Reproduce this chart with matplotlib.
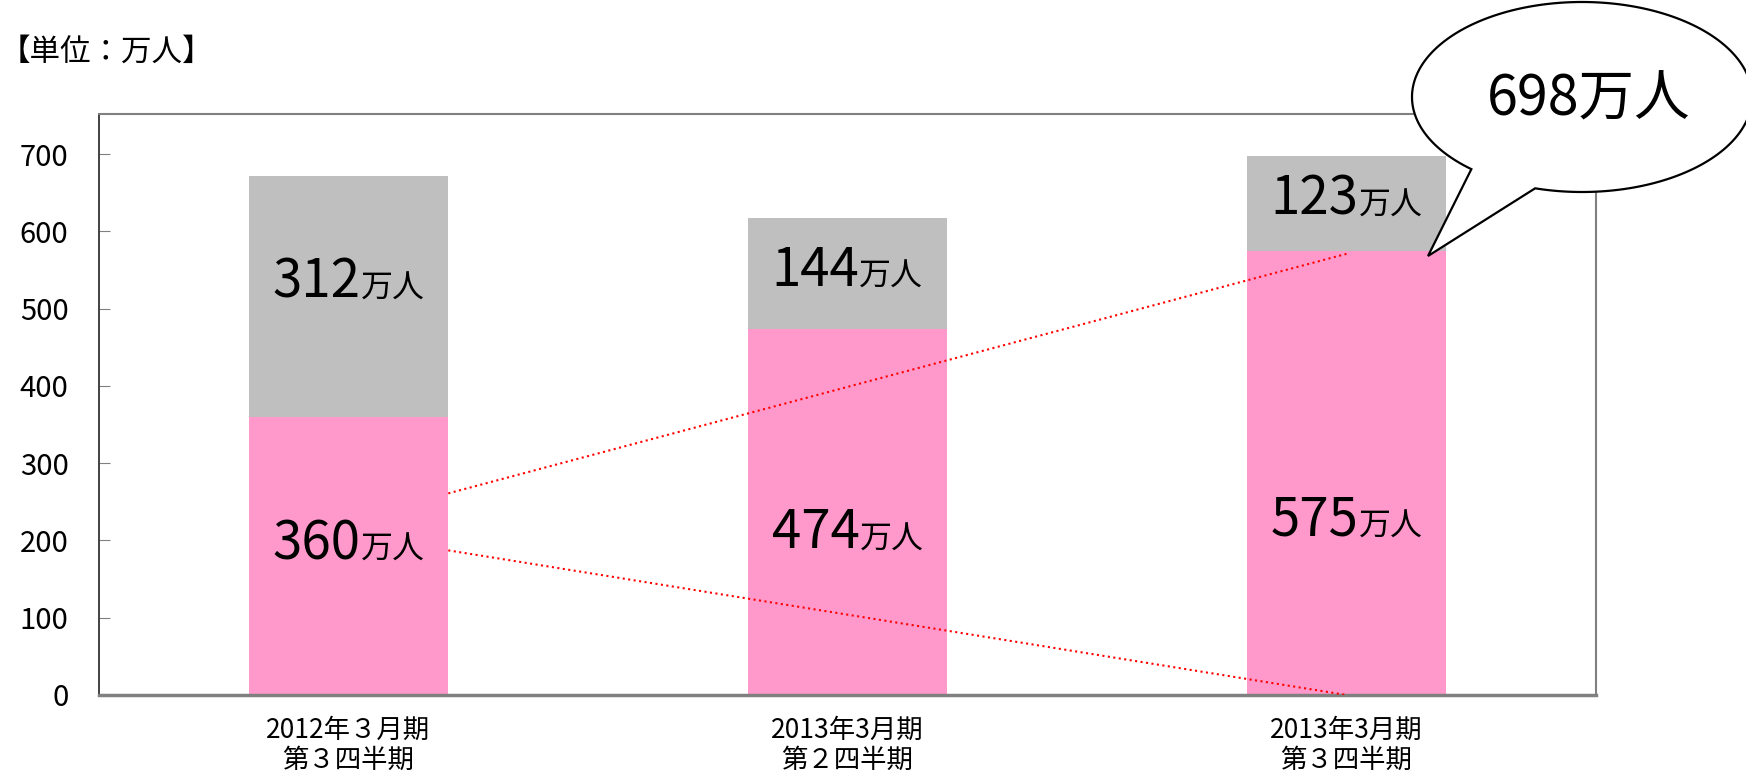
import matplotlib
matplotlib.use("Agg")
import matplotlib.pyplot as plt
import matplotlib.transforms as mtransforms
from matplotlib.patches import Polygon
import numpy as np

plt.rcParams['font.family'] = ['Noto Sans CJK JP', 'DejaVu Sans']

# data
categories = ["2012年３月期\n第３四半期", "2013年3月期\n第２四半期", "2013年3月期\n第３四半期"]
pink_values = [360, 474, 575]
gray_values = [312, 144, 123]
total_label = "698万人"
unit_label = "【単位：万人】"
yticks = [0, 100, 200, 300, 400, 500, 600, 700]

# baselines of the value labels (data units)
pink_label_y = [176, 190, 206]
gray_label_y = [514, 530, 622]

PINK = "#FF99CC"
GRAY = "#BFBFBF"

W, H = 1746, 771
fig = plt.figure(figsize=(W / 100, H / 100), dpi=100)
ax = fig.add_axes([99 / W, 1 - 695 / H, (1596 - 99) / W, (695 - 114) / H])

x = np.arange(len(categories))
ax.bar(x, pink_values, width=0.4, color=PINK, zorder=2)
ax.bar(x, gray_values, width=0.4, bottom=pink_values, color=GRAY, zorder=2)

ax.set_xlim(-0.5, 2.5)
ax.set_ylim(0, 752)
ax.set_yticks(yticks)
ax.set_xticks(x)
ax.set_xticklabels(categories, fontsize=19, linespacing=1.1)
ax.tick_params(axis='x', length=0, pad=16)
ax.tick_params(axis='y', direction='in', length=8, color='#808080', labelsize=21, pad=22)

for side in ['top', 'right']:
    ax.spines[side].set_color('#808080')
    ax.spines[side].set_linewidth(1.5)
ax.spines['bottom'].set_color('#808080')
ax.spines['bottom'].set_linewidth(2.5)
ax.spines['left'].set_color('#333333')
ax.spines['left'].set_linewidth(1.3)

# value labels: big number + small 万人
pairs = []
for i in range(len(categories)):
    for val, yb in [(pink_values[i], pink_label_y[i]), (gray_values[i], gray_label_y[i])]:
        t1 = ax.text(x[i], yb, str(val), fontsize=38, ha='right', va='baseline', zorder=4)
        t2 = ax.text(x[i], yb, "万人", fontsize=23, ha='left', va='baseline', zorder=4)
        pairs.append((t1, t2))

fig.canvas.draw()
r = fig.canvas.get_renderer()
for t1, t2 in pairs:
    w1 = t1.get_window_extent(r).width
    w2 = t2.get_window_extent(r).width
    dx = (w1 - w2) / 2
    t1.set_transform(mtransforms.offset_copy(ax.transData, fig=fig, x=dx, y=0, units='dots'))
    t2.set_transform(mtransforms.offset_copy(ax.transData, fig=fig, x=dx, y=0, units='dots'))

# red dotted guide lines from bar 1 to bar 3
x0 = x[0] + 0.2
ax.plot([x0, x[2]], [pink_values[0] * 0.725, pink_values[2] - 4], color='red', ls=':', lw=1.5, zorder=3)
ax.plot([x0, x[2]], [pink_values[0] * 0.52, 0], color='red', ls=':', lw=1.5, zorder=3)

# unit label
fig.text(0, 1 - 52 / H, unit_label, fontsize=22, ha='left', va='center')

# speech bubble (pixel coords, y from top)
cx, cy, a, b = 1582, 97, 170, 95
t = np.radians(np.linspace(130.6, 466, 300))
px = cx + a * np.cos(t)
py = cy + b * np.sin(t)
px = np.append(px, 1428)
py = np.append(py, 256)
pts = np.column_stack([px / W, 1 - py / H])
bubble = Polygon(pts, closed=True, facecolor='white', edgecolor='black', lw=1.6,
                 transform=fig.transFigure, zorder=10)
fig.add_artist(bubble)
fig.text(1589 / W, 1 - 100 / H, total_label, fontsize=40, ha='center', va='center', zorder=11)

fig.savefig("out.png", dpi=100)
